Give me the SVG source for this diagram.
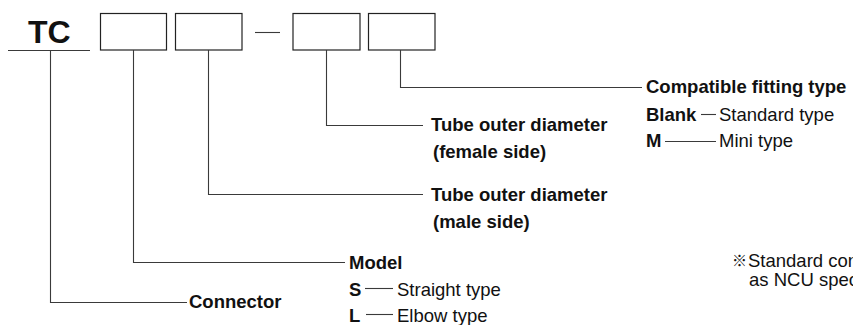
<svg xmlns="http://www.w3.org/2000/svg" width="853" height="325" viewBox="0 0 853 325">
<style>
text{font-family:"Liberation Sans",Arial,"Noto Sans CJK JP",sans-serif;font-size:18.5px;fill:#111}
.b{font-weight:bold}
.box{fill:#fff;stroke:#222;stroke-width:1.2}
.ln{fill:none;stroke:#3a3a3a;stroke-width:1.1}
</style>
<rect width="853" height="325" fill="#fff"/>
<g id="code">
  <text class="b" x="28" y="43" style="font-size:32px">TC</text>
  <line class="ln" x1="8" y1="50.5" x2="90" y2="50.5"/>
  <rect class="box" x="100.5" y="13.5" width="66" height="36.5"/>
  <rect class="box" x="175.5" y="13.5" width="66.5" height="36.5"/>
  <line class="ln" x1="255" y1="32.5" x2="280" y2="32.5"/>
  <rect class="box" x="293" y="13.5" width="67" height="36.5"/>
  <rect class="box" x="368.5" y="13.5" width="66.5" height="36.5"/>
</g>
<g id="connectors">
  <polyline class="ln" points="50.5,50.5 50.5,302.5 187,302.5"/>
  <polyline class="ln" points="133.5,50 133.5,262.5 345,262.5"/>
  <polyline class="ln" points="208.5,50 208.5,194.5 423,194.5"/>
  <polyline class="ln" points="326.5,50 326.5,125.5 423,125.5"/>
  <polyline class="ln" points="400.5,50 400.5,87.5 642,87.5"/>
</g>
<g id="compatible">
  <text class="b" x="646" y="93">Compatible fitting type</text>
  <text class="b" x="646" y="121">Blank</text>
  <line class="ln" x1="701" y1="114.5" x2="716" y2="114.5"/>
  <text x="719" y="121">Standard type</text>
  <text class="b" x="646" y="147">M</text>
  <line class="ln" x1="665" y1="141.5" x2="716" y2="141.5"/>
  <text x="719" y="147">Mini type</text>
</g>
<g id="female">
  <text class="b" x="431" y="131">Tube outer diameter</text>
  <text class="b" x="433" y="158">(female side)</text>
</g>
<g id="male">
  <text class="b" x="431" y="201">Tube outer diameter</text>
  <text class="b" x="433" y="228">(male side)</text>
</g>
<g id="model">
  <text class="b" x="349" y="269">Model</text>
  <text class="b" x="349" y="296">S</text>
  <line class="ln" x1="365" y1="288.5" x2="393" y2="288.5"/>
  <text x="397" y="296">Straight type</text>
  <text class="b" x="349" y="322">L</text>
  <line class="ln" x1="366" y1="314.5" x2="393" y2="314.5"/>
  <text x="397" y="322">Elbow type</text>
</g>
<g id="connector">
  <text class="b" x="189" y="308">Connector</text>
</g>
<g id="note">
  <text x="732" y="266" style="font-size:15px">※</text>
  <text x="748" y="267">Standard con</text>
  <text x="749" y="286">as NCU spec</text>
</g>
</svg>
